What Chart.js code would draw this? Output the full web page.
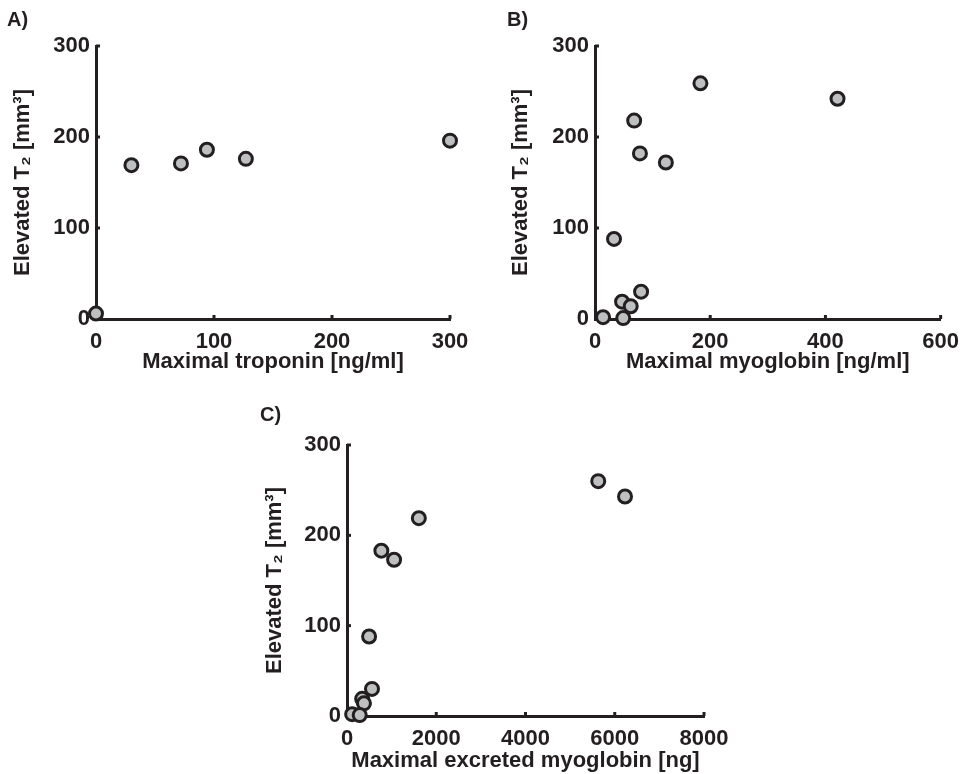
<!DOCTYPE html>
<html>
<head>
<meta charset="utf-8">
<script src="https://cdn.jsdelivr.net/npm/chart.js@4.4.1/dist/chart.umd.min.js"></script>
<style>
  body { margin: 0; background: #fff; }
  #wrap { position: relative; width: 969px; height: 774px; }
  canvas { position: absolute; }
</style>
</head>
<body>
<div id="wrap">
  <canvas id="chartA" width="480" height="380" style="left:0px;top:0px"></canvas>
  <canvas id="chartB" width="489" height="380" style="left:480px;top:0px"></canvas>
  <canvas id="chartC" width="500" height="394" style="left:240px;top:380px"></canvas>
</div>
<script>
// A) troponin vs elevated T2
let troponin = [0, 30, 72, 94, 127, 300];
let t2A = [6, 169, 171, 186, 176, 196];

// B) myoglobin vs elevated T2
let myoglobin = [183, 421, 68, 78, 123, 33, 80, 47, 62, 14, 49];
let t2B = [259, 242, 218, 182, 172, 88, 30, 19, 14, 2, 1];

// C) excreted myoglobin vs elevated T2
let excreted = [5630, 6230, 1610, 770, 1055, 495, 560, 340, 380, 115, 285];
let t2C = [260, 243, 219, 183, 173, 88, 30, 19, 14, 2, 1];

let yTicks = [0, 100, 200, 300];
let xTicksA = [0, 100, 200, 300];
let xTicksB = [0, 200, 400, 600];
let xTicksC = [0, 2000, 4000, 6000, 8000];

let yLabel = 'Elevated T\u2082 [mm\u00b3]';

const ink = '#231f20';
Chart.defaults.font.family = "'Liberation Sans', Arial, Helvetica, sans-serif";
Chart.defaults.color = ink;

// matlab style ticks, pointing into the plot
const inwardTicks = {
  id: 'inwardTicks',
  beforeDatasetsDraw(chart) {
    let ctx = chart.ctx;
    let area = chart.chartArea;
    let x = chart.scales.x;
    let y = chart.scales.y;
    ctx.save();
    ctx.strokeStyle = ink;
    ctx.lineWidth = 3;
    x.ticks.forEach(function(t) {
      if (t.value === x.min) return;
      let px = x.getPixelForValue(t.value);
      ctx.beginPath();
      ctx.moveTo(px, area.bottom);
      ctx.lineTo(px, area.bottom - 4);
      ctx.stroke();
    });
    y.ticks.forEach(function(t) {
      if (t.value === y.min) return;
      let py = y.getPixelForValue(t.value);
      ctx.beginPath();
      ctx.moveTo(area.left, py);
      ctx.lineTo(area.left + 4, py);
      ctx.stroke();
    });
    ctx.restore();
  }
};

function plainNumber(v) {
  return String(v);
}

function makePanel(id, letter, xs, ys, xTicks, xTitle, lay) {
  let points = [];
  for (let i = 0; i < xs.length; i++) {
    points.push({ x: xs[i], y: ys[i] });
  }
  return new Chart(document.getElementById(id), {
    type: 'scatter',
    data: {
      datasets: [{
        data: points,
        pointRadius: 6.5,
        pointHoverRadius: 6.5,
        borderWidth: 3,
        borderColor: ink,
        backgroundColor: '#bebfc1',
        clip: false
      }]
    },
    options: {
      responsive: false,
      animation: false,
      events: [],
      layout: { padding: { left: lay.left, right: lay.right, top: 0, bottom: 0 } },
      plugins: {
        legend: { display: false },
        tooltip: { enabled: false },
        title: {
          display: true,
          text: letter,
          align: 'start',
          color: ink,
          font: { size: 20, weight: 'bold' },
          padding: { top: lay.titleTop, bottom: lay.titleBottom }
        }
      },
      scales: {
        x: {
          type: 'linear',
          min: xTicks[0],
          max: xTicks[xTicks.length - 1],
          afterBuildTicks: function(scale) {
            scale.ticks = xTicks.map(function(v) { return { value: v }; });
          },
          afterFit: function(scale) { scale.height = lay.xHeight; },
          grid: { display: true, drawOnChartArea: false, drawTicks: false },
          border: { display: true, color: ink, width: 3 },
          ticks: { padding: 10, maxRotation: 0, callback: plainNumber, font: { size: 22, weight: 'bold' }, color: ink },
          title: {
            display: true,
            text: xTitle,
            color: ink,
            font: { size: 22, weight: 'bold' },
            padding: { top: 0, bottom: lay.xTitlePad }
          }
        },
        y: {
          type: 'linear',
          min: yTicks[0],
          max: yTicks[yTicks.length - 1],
          afterBuildTicks: function(scale) {
            scale.ticks = yTicks.map(function(v) { return { value: v }; });
          },
          afterFit: function(scale) { scale.width = lay.yWidth; },
          grid: { display: true, drawOnChartArea: false, drawTicks: false },
          border: { display: true, color: ink, width: 3 },
          ticks: { padding: 6, callback: plainNumber, font: { size: 22, weight: 'bold' }, color: ink },
          title: {
            display: true,
            text: yLabel,
            color: ink,
            font: { size: 22, weight: 'bold' },
            padding: { top: lay.yTitlePad, bottom: 0 }
          }
        }
      }
    },
    plugins: [inwardTicks]
  });
}

makePanel('chartA', 'A)', troponin, t2A, xTicksA, 'Maximal troponin [ng/ml]',
  { left: 7, right: 30, yWidth: 89, xHeight: 61, titleTop: 8, titleBottom: 14, yTitlePad: 3, xTitlePad: 5 });
makePanel('chartB', 'B)', myoglobin, t2B, xTicksB, 'Maximal myoglobin [ng/ml]',
  { left: 27, right: 20, yWidth: 88, xHeight: 61, titleTop: 8, titleBottom: 14, yTitlePad: 1, xTitlePad: 5 });
makePanel('chartC', 'C)', excreted, t2C, xTicksC, 'Maximal excreted myoglobin [ng]',
  { left: 20, right: 36, yWidth: 87, xHeight: 58, titleTop: 23, titleBottom: 18, yTitlePad: 2, xTitlePad: 0 });
</script>
</body>
</html>
